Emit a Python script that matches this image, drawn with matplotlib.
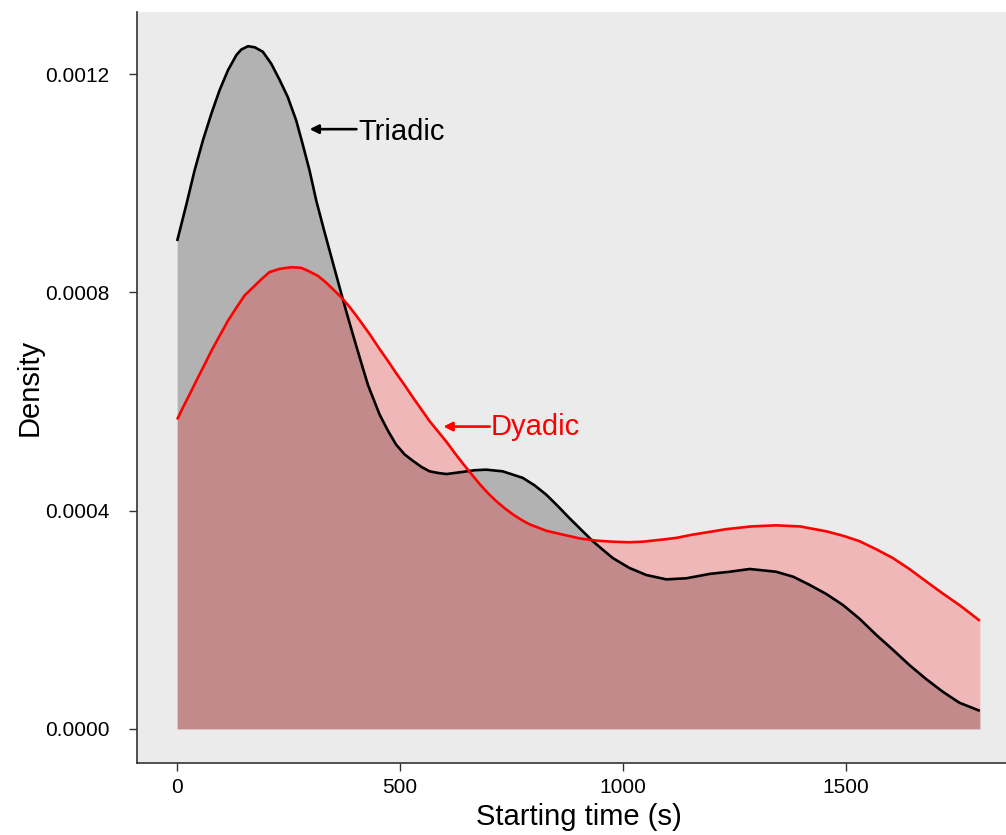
import matplotlib
matplotlib.use("Agg")
import matplotlib.pyplot as plt

plt.rcParams['font.family'] = ['Liberation Sans', 'DejaVu Sans']

# ---- data ----
triadic_x = [0, 21, 39, 58, 77, 95, 114, 133, 144, 159, 174, 192, 211, 230, 248, 267,
             282, 297, 312, 330, 349, 368, 381, 394, 411, 428, 454, 473, 491, 510, 529,
             548, 566, 585, 604, 641, 667, 693, 730, 775, 802, 828, 854, 880, 906, 932,
             955, 977, 1014, 1052, 1097, 1142, 1194, 1239, 1284, 1343, 1381, 1418, 1456,
             1493, 1530, 1568, 1605, 1642, 1680, 1717, 1754, 1800]
triadic_y = [8.94, 9.62, 10.23, 10.79, 11.28, 11.70, 12.07, 12.35, 12.45, 12.51, 12.49,
             12.41, 12.19, 11.89, 11.58, 11.15, 10.70, 10.23, 9.68, 9.12, 8.55, 7.98,
             7.60, 7.23, 6.76, 6.30, 5.76, 5.46, 5.21, 5.03, 4.91, 4.80, 4.72, 4.69, 4.67,
             4.71, 4.74, 4.75, 4.72, 4.60, 4.46, 4.29, 4.08, 3.86, 3.65, 3.44, 3.28, 3.13,
             2.95, 2.82, 2.74, 2.76, 2.84, 2.88, 2.93, 2.88, 2.79, 2.64, 2.47, 2.27, 2.02,
             1.72, 1.45, 1.17, 0.91, 0.68, 0.48, 0.33]
dyadic_x = [0, 13, 28, 43, 58, 77, 95, 114, 133, 151, 170, 189, 207, 230, 256, 278, 297,
            316, 334, 349, 368, 385, 402, 417, 432, 454, 473, 491, 510, 529, 548, 566, 585,
            604, 622, 641, 660, 678, 697, 716, 735, 753, 772, 790, 828, 865, 903, 940, 977,
            1014, 1044, 1089, 1119, 1156, 1194, 1231, 1287, 1343, 1397, 1456, 1493, 1530,
            1568, 1605, 1642, 1680, 1717, 1754, 1778, 1800]
dyadic_y = [5.67, 5.89, 6.13, 6.38, 6.62, 6.93, 7.20, 7.48, 7.72, 7.94, 8.09, 8.24, 8.37,
            8.43, 8.46, 8.45, 8.38, 8.30, 8.18, 8.06, 7.91, 7.75, 7.57, 7.40, 7.23, 6.96,
            6.74, 6.52, 6.30, 6.07, 5.85, 5.64, 5.45, 5.26, 5.06, 4.86, 4.67, 4.49, 4.32,
            4.17, 4.04, 3.93, 3.83, 3.75, 3.63, 3.56, 3.49, 3.45, 3.43, 3.42, 3.43, 3.47,
            3.50, 3.56, 3.61, 3.66, 3.71, 3.73, 3.71, 3.62, 3.54, 3.44, 3.29, 3.13, 2.93,
            2.70, 2.48, 2.27, 2.12, 1.98]
y_scale = 1e-4

x_ticks = [0, 500, 1000, 1500]
y_ticks = [0.0, 0.0004, 0.0008, 0.0012]
y_ticklabels = ["0.0000", "0.0004", "0.0008", "0.0012"]

labels = ["Triadic", "Dyadic"]
colors = ["black", "red"]

W, H = 1006, 835
fig = plt.figure(figsize=(W / 100, H / 100), dpi=100)
left, right, bottom, top = 137, 1020, 763, 12
ax = fig.add_axes([left / W, (H - bottom) / H, (right - left) / W, (bottom - top) / H])
ax.set_facecolor('#EBEBEB')

ty = [v * y_scale for v in triadic_y]
dy = [v * y_scale for v in dyadic_y]

ax.fill_between(triadic_x, ty, 0, color='black', alpha=0.24, lw=0)
ax.plot(triadic_x, ty, color='black', lw=1.9, solid_capstyle='butt', solid_joinstyle='round')
ax.fill_between(dyadic_x, dy, 0, color='red', alpha=0.22, lw=0)
ax.plot(dyadic_x, dy, color='red', lw=1.9, solid_capstyle='butt', solid_joinstyle='round')

ax.set_xlim(-90, 1890)
ax.set_ylim(-0.0000625, 0.0013137)

ax.set_xticks(x_ticks)
ax.set_xticklabels([str(v) for v in x_ticks])
ax.set_yticks(y_ticks)
ax.set_yticklabels(y_ticklabels)
ax.tick_params(axis='both', length=6, width=1.0, color='#333333', labelsize=15,
               labelcolor='black')
ax.tick_params(axis='y', pad=14)
ax.tick_params(axis='x', pad=5)

for s in ['top', 'right']:
    ax.spines[s].set_visible(False)
for s in ['left', 'bottom']:
    ax.spines[s].set_color('#333333')
    ax.spines[s].set_linewidth(1.2)

ax.set_xlabel("Starting time (s)", fontsize=21, labelpad=4)
ax.set_ylabel("Density", fontsize=21, labelpad=1)

# annotations
ax.annotate("", xy=(297, 0.001099), xytext=(402, 0.001099),
            arrowprops=dict(arrowstyle='-|>', color=colors[0], lw=1.9, mutation_scale=13,
                            shrinkA=0, shrinkB=0))
ax.text(407, 0.00108, labels[0], color=colors[0], fontsize=21, va='baseline', ha='left')
ax.annotate("", xy=(597, 0.000554), xytext=(701, 0.000554),
            arrowprops=dict(arrowstyle='-|>', color=colors[1], lw=1.9, mutation_scale=13,
                            shrinkA=0, shrinkB=0))
ax.text(702, 0.000538, labels[1], color=colors[1], fontsize=21, va='baseline', ha='left')

fig.savefig("out.png", dpi=100)
